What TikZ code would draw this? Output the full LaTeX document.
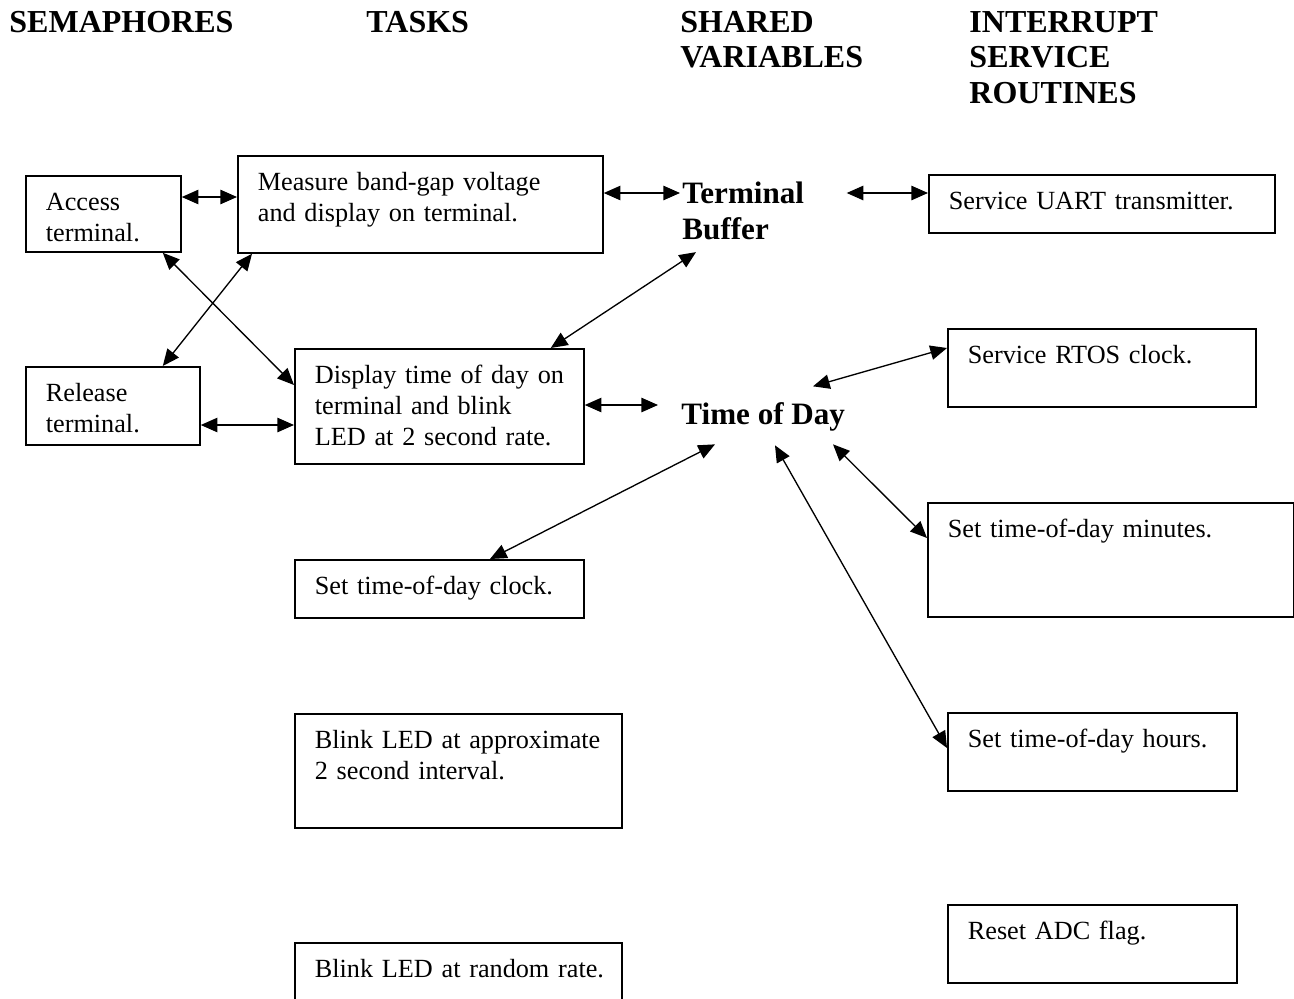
\documentclass[tikz,border=0pt]{standalone}
\usepackage{fontspec}
\setmainfont{Liberation Serif}
\usepackage{tikz}
\usetikzlibrary{positioning,arrows.meta,calc}
\tikzset{
  taskbox/.style = {draw, line width=0.8pt, anchor=north west, align=left,
                    inner xsep=0pt, inner ysep=6.75pt, text height=9pt,
                    execute at begin node={\leftskip=9pt},
                    font=\fontsize{11.8}{13.9}\selectfont},
  colhead/.style = {anchor=base west, align=left, inner sep=0pt, text width=130pt,
                    font=\fontsize{14.4}{16}\selectfont\bfseries},
  varlbl/.style  = {anchor=base west, align=left, inner sep=0pt, text height=10pt,
                    font=\fontsize{14}{16.2}\selectfont\bfseries},
  link/.style    = {{Triangle[length=7.5pt,width=6.5pt]}-{Triangle[length=7.5pt,width=6.5pt]},
                    line width=0.6pt},
}
\begin{document}
\begin{tikzpicture}[x=0.45pt, y=-0.45pt]
  \path[use as bounding box, clip] (0,0) rectangle (1294,998);

  % column headings
  \node[colhead] (hsem) at (9,32) {SEMAPHORES};
  \node[colhead] (htask) at (366,32) {TASKS};
  \node[colhead] (hvar) at (680,32) {SHARED\\VARIABLES};
  \node[colhead] (hisr) at (969,32) {INTERRUPT\\SERVICE\\ROUTINES};

  % semaphores
  \node[taskbox, text width=69.75pt, text depth=11.7pt] (acc) at (25,175)
    {Access\\terminal.};
  \node[taskbox, text width=78.3pt, text depth=12.6pt] (rel) at (25,366)
    {Release\\terminal.};

  % tasks
  \node[taskbox, text width=164.25pt, text depth=21.15pt] (meas) at (237,155)
    {Measure band-gap voltage\\and display on terminal.};
  \node[taskbox, text width=130.05pt, text depth=29.25pt] (disp) at (294,348)
    {Display time of day on\\terminal and blink\\LED at 2 second rate.};
  \node[taskbox, text width=130.05pt, text depth=3.6pt] (setclk) at (294,559)
    {Set time-of-day clock.};
  \node[taskbox, text width=147.15pt, text depth=28.8pt] (blinka) at (294,713)
    {Blink LED at approximate\\2 second interval.};
  \node[taskbox, text width=147.15pt, text depth=13.5pt] (blinkr) at (294,942)
    {Blink LED at random rate.};

  % shared variables
  \node[varlbl, text width=62pt, text depth=19.2pt] (tbuf) at (682,203)
    {Terminal\\Buffer};
  \node[varlbl, text depth=4pt] (tod) at (681,424) {Time of Day};

  % interrupt service routines
  \node[taskbox, text width=155.7pt, text depth=3.6pt] (uart) at (928,174)
    {Service UART transmitter.};
  \node[taskbox, text width=138.6pt, text depth=12.6pt] (rtos) at (947,328)
    {Service RTOS clock.};
  \node[taskbox, text width=164.7pt, text depth=28.8pt] (mins) at (927,502)
    {Set time-of-day minutes.};
  \node[taskbox, text width=130.05pt, text depth=12.6pt] (hrs) at (947,712)
    {Set time-of-day hours.};
  \node[taskbox, text width=130.05pt, text depth=12.6pt] (adc) at (947,904)
    {Reset ADC flag.};

  % connectors
  \draw[link] ($(acc.north east)+(0,22)$) coordinate (a1) -- (a1 -| meas.west);
  \draw[link] ($(meas.north east)+(0,38)$) coordinate (a2) -- ($(a2 -| tbuf.west)+(-2,0)$);
  \draw[link] ($(uart.north west)+(0,19)$) coordinate (a3) -- ($(a3 -| tbuf.east)+(26,0)$);
  \draw[link] ($(acc.south east)+(-19,0)$) -- ($(disp.north west)+(0,37)$);
  \draw[link] ($(meas.south west)+(15,0)$) -- ($(rel.north east)+(-38,0)$);
  \draw[link] ($(disp.north east)+(-34,0)$) -- ($(tbuf.south west)+(14,6)$);
  \draw[link] ($(rel.north east)+(0,59)$) coordinate (a7) -- (a7 -| disp.west);
  \draw[link] ($(disp.north east)+(0,57)$) coordinate (a8) -- ($(a8 -| tod.west)+(-23,0)$);
  \draw[link] ($(tod.north west)+(132,-15)$) -- ($(rtos.north west)+(0,20)$);
  \draw[link] ($(tod.south west)+(34,11)$) -- ($(setclk.north west)+(196,0)$);
  \draw[link] ($(tod.south west)+(94,12)$) -- ($(hrs.north west)+(0,36)$);
  \draw[link] ($(tod.south west)+(152,11)$) -- ($(mins.north west)+(0,36)$);
\end{tikzpicture}
\end{document}
